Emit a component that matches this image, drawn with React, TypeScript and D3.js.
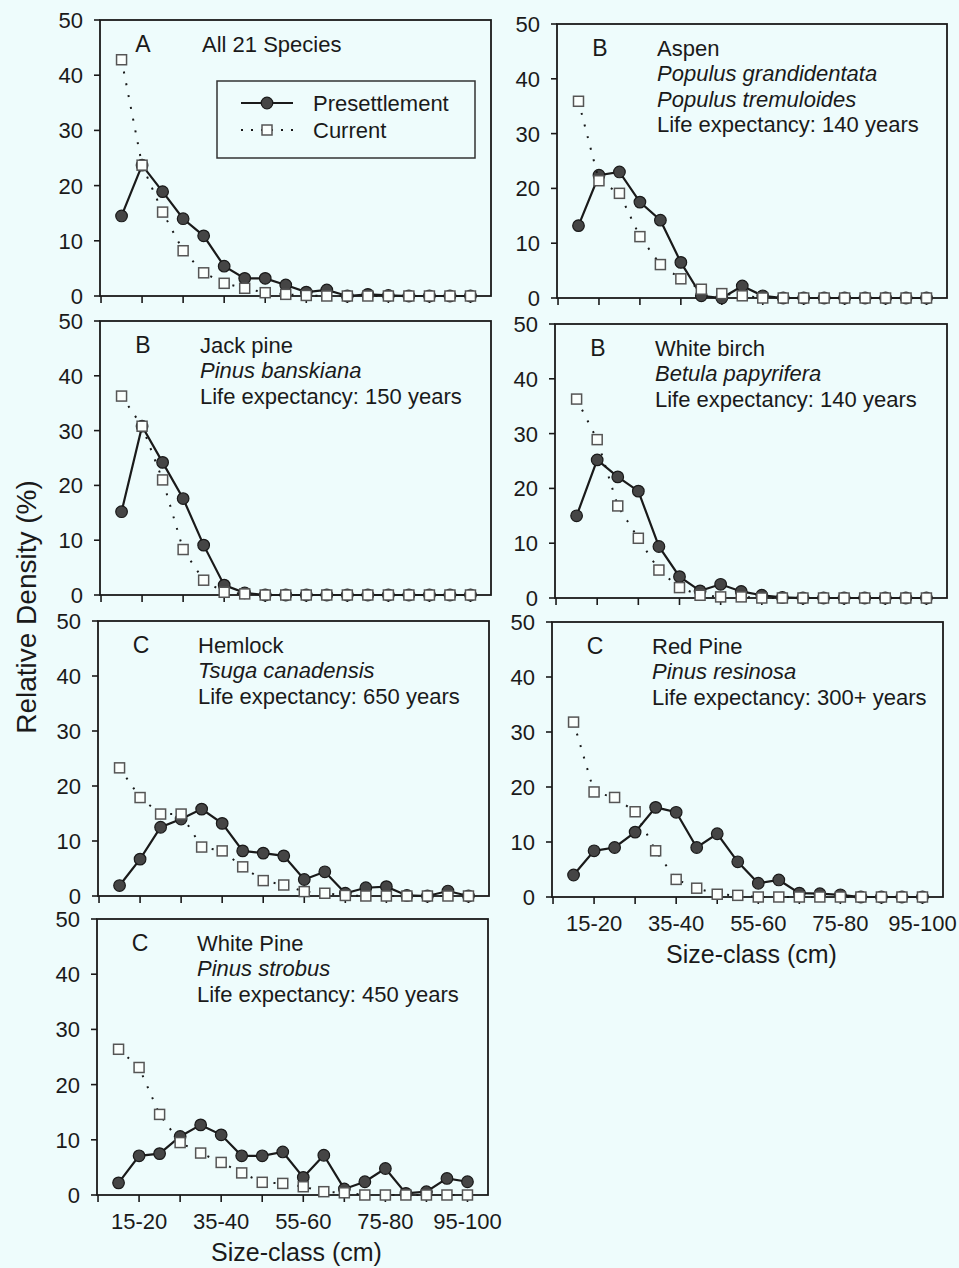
import React from 'react';
import * as d3 from 'd3';

// size classes (cm), 10-15 .. 95-100
const sizeClasses = [
  '10-15', '15-20', '20-25', '25-30', '30-35', '35-40', '40-45', '45-50', '50-55',
  '55-60', '60-65', '65-70', '70-75', '75-80', '80-85', '85-90', '90-95', '95-100',
];
const labeledClasses = ['15-20', '35-40', '55-60', '75-80', '95-100'];
const yTicks = [0, 10, 20, 30, 40, 50];

// relative density (%) per size class
const allPre = [14.5, 23.7, 18.9, 14.0, 10.9, 5.4, 3.2, 3.2, 2.0, 0.7, 1.1, 0, 0.3, 0.1, 0, 0, 0, 0];
const allCur = [42.8, 23.7, 15.2, 8.2, 4.2, 2.3, 1.4, 0.6, 0.3, 0.1, 0, 0, 0, 0, 0, 0, 0, 0];
const aspenPre = [13.2, 22.4, 23.0, 17.5, 14.2, 6.5, 0.4, 0, 2.2, 0.4, 0, 0, 0, 0, 0, 0, 0, 0];
const aspenCur = [35.9, 21.4, 19.1, 11.2, 6.1, 3.5, 1.6, 0.8, 0.4, 0, 0, 0, 0, 0, 0, 0, 0, 0];
const jackPre = [15.2, 30.8, 24.2, 17.6, 9.1, 1.8, 0.4, 0, 0, 0, 0, 0, 0, 0, 0, 0, 0, 0];
const jackCur = [36.3, 30.8, 21.0, 8.3, 2.7, 0.5, 0.2, 0, 0, 0, 0, 0, 0, 0, 0, 0, 0, 0];
const birchPre = [15.0, 25.2, 22.1, 19.5, 9.4, 3.9, 1.3, 2.5, 1.2, 0.5, 0.1, 0, 0, 0, 0, 0, 0, 0];
const birchCur = [36.3, 28.9, 16.8, 10.9, 5.1, 1.9, 0.5, 0.2, 0.2, 0, 0, 0, 0, 0, 0, 0, 0, 0];
const hemlockPre = [1.9, 6.7, 12.5, 14.0, 15.8, 13.2, 8.2, 7.8, 7.3, 3.0, 4.4, 0.5, 1.5, 1.7, 0.1, 0, 0.9, 0];
const hemlockCur = [23.3, 17.9, 14.9, 14.9, 8.9, 8.2, 5.3, 2.8, 2.0, 0.8, 0.5, 0.1, 0, 0, 0, 0, 0, 0];
const redPre = [4.0, 8.4, 9.0, 11.8, 16.3, 15.4, 9.0, 11.5, 6.4, 2.5, 3.1, 0.7, 0.6, 0.4, 0, 0, 0, 0];
const redCur = [31.8, 19.1, 18.1, 15.5, 8.4, 3.2, 1.6, 0.5, 0.3, 0, 0, 0, 0, 0, 0, 0, 0, 0];
const whitePre = [2.2, 7.1, 7.5, 10.6, 12.7, 10.9, 7.1, 7.1, 7.8, 3.2, 7.2, 1.1, 2.4, 4.8, 0.3, 0.6, 3.0, 2.4];
const whiteCur = [26.4, 23.1, 14.6, 9.5, 7.6, 5.9, 4.0, 2.3, 2.1, 1.5, 0.6, 0.4, 0, 0, 0, 0, 0, 0];

type Line = { text: string; italic?: boolean };

const panels = [
  { letter: 'A', lines: [{ text: 'All 21 Species' }], pre: allPre, cur: allCur,
    left: 100, right: 491, top: 20, bottom: 296, legend: true },
  { letter: 'B', lines: [{ text: 'Aspen' }, { text: 'Populus grandidentata', italic: true },
    { text: 'Populus tremuloides', italic: true }, { text: 'Life expectancy: 140 years' }],
    pre: aspenPre, cur: aspenCur, left: 557, right: 947, top: 24, bottom: 298 },
  { letter: 'B', lines: [{ text: 'Jack pine' }, { text: 'Pinus banskiana', italic: true },
    { text: 'Life expectancy: 150 years' }],
    pre: jackPre, cur: jackCur, left: 100, right: 491, top: 321, bottom: 595 },
  { letter: 'B', lines: [{ text: 'White birch' }, { text: 'Betula papyrifera', italic: true },
    { text: 'Life expectancy: 140 years' }],
    pre: birchPre, cur: birchCur, left: 555, right: 947, top: 324, bottom: 598 },
  { letter: 'C', lines: [{ text: 'Hemlock' }, { text: 'Tsuga canadensis', italic: true },
    { text: 'Life expectancy: 650 years' }],
    pre: hemlockPre, cur: hemlockCur, left: 98, right: 489, top: 621, bottom: 896 },
  { letter: 'C', lines: [{ text: 'Red Pine' }, { text: 'Pinus resinosa', italic: true },
    { text: 'Life expectancy: 300+ years' }],
    pre: redPre, cur: redCur, left: 552, right: 943, top: 622, bottom: 897, xLabels: true },
  { letter: 'C', lines: [{ text: 'White Pine' }, { text: 'Pinus strobus', italic: true },
    { text: 'Life expectancy: 450 years' }],
    pre: whitePre, cur: whiteCur, left: 97, right: 488, top: 919, bottom: 1195, xLabels: true },
];

const font = '"Liberation Sans", Arial, Helvetica, sans-serif';
const ink = '#1a1a1a';

const PanelChart = ({ p }: { p: any }) => {
  const x = d3.scaleLinear().domain([-1.05, 18]).range([p.left, p.right]);
  const y = d3.scaleLinear().domain([0, 50]).range([p.bottom, p.top]);
  const line = d3.line<number>().x((_, i) => x(i)).y(d => y(d));
  const xTicks = d3.range(-1, 18, 2);

  return (
    <g>
      <rect x={p.left} y={p.top} width={p.right - p.left} height={p.bottom - p.top}
        fill="none" stroke={ink} strokeWidth={1.8} />
      {/* y axis */}
      {yTicks.map(t => (
        <g key={t}>
          <line x1={p.left - 6} x2={p.left} y1={y(t)} y2={y(t)} stroke={ink} strokeWidth={1.6} />
          <text x={p.left - 17} y={y(t)} dy="0.36em" textAnchor="end" fontSize={22}
            fill={ink}>{t}</text>
        </g>
      ))}
      {/* x axis ticks */}
      {xTicks.map(i => (
        <line key={i} x1={x(i)} x2={x(i)} y1={p.bottom} y2={p.bottom + 7} stroke={ink} strokeWidth={1.6} />
      ))}
      {p.xLabels && sizeClasses.map((s, i) => labeledClasses.includes(s) ? (
        <text key={s} x={x(i)} y={p.bottom + 18} dy="0.71em" textAnchor="middle" fontSize={22}
          fill={ink}>{s}</text>
      ) : null)}
      {p.xLabels && (
        <text x={(p.left + p.right) / 2 + 4} y={p.bottom + 66} textAnchor="middle" fontSize={25}
          fill={ink}>Size-class (cm)</text>
      )}
      {/* annotations */}
      <text x={p.left + 43} y={p.top + 32} textAnchor="middle" fontSize={23} fill={ink}>{p.letter}</text>
      {p.lines.map((l: Line, k: number) => (
        <text key={k} x={p.left + (p.legend ? 102 : 100)} y={p.top + 32 + k * 25.3} fontSize={22}
          fontStyle={l.italic ? 'italic' : 'normal'} fill={ink}>{l.text}</text>
      ))}
      {/* presettlement */}
      <path d={line(p.pre) || ''} fill="none" stroke={ink} strokeWidth={2.2} />
      {p.pre.map((v: number, i: number) => (
        <circle key={i} cx={x(i)} cy={y(v)} r={5.8} fill="#454545" stroke={ink} strokeWidth={1.2} />
      ))}
      {/* current */}
      <path d={line(p.cur) || ''} fill="none" stroke={ink} strokeWidth={2}
        strokeDasharray="2,10" />
      {p.cur.map((v: number, i: number) => (
        <rect key={i} x={x(i) - 5} y={y(v) - 5} width={10} height={10} fill="#fbfffd"
          stroke="#555" strokeWidth={1.5} />
      ))}
      {p.legend && (
        <g>
          <rect x={217} y={81} width={258} height={77} fill="none" stroke="#333" strokeWidth={1.5} />
          <line x1={241} x2={293} y1={103} y2={103} stroke={ink} strokeWidth={2.2} />
          <circle cx={267} cy={103} r={5.8} fill="#454545" stroke={ink} strokeWidth={1.2} />
          <text x={313} y={103} dy="0.36em" fontSize={22} fill={ink}>Presettlement</text>
          <line x1={241} x2={295} y1={130} y2={130} stroke={ink} strokeWidth={2}
            strokeDasharray="2,8" />
          <rect x={262} y={125} width={10} height={10} fill="#fbfffd" stroke="#555" strokeWidth={1.5} />
          <text x={313} y={130} dy="0.36em" fontSize={22} fill={ink}>Current</text>
        </g>
      )}
    </g>
  );
};

export default function App() {
  return (
    <svg width={959} height={1268} style={{ position: 'absolute', left: 0, top: 0, background: '#eefcfc' }}
      fontFamily={font}>
      <rect width={959} height={1268} fill="#eefcfc" />
      {panels.map((p, k) => <PanelChart key={k} p={p} />)}
      <text transform="translate(36,607) rotate(-90)" textAnchor="middle" fontSize={28} fill={ink}>
        Relative Density (%)
      </text>
    </svg>
  );
}
